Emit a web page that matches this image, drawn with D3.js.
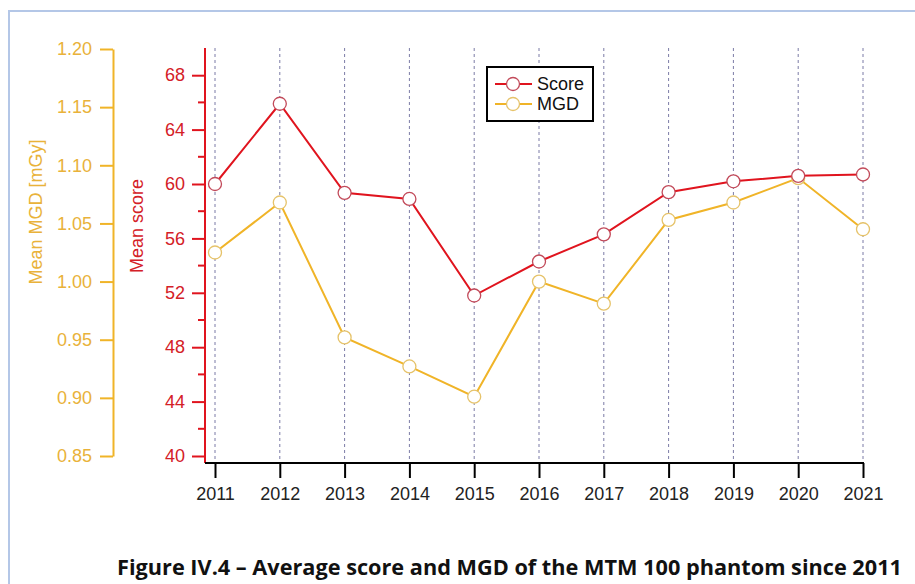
<!DOCTYPE html>
<html>
<head>
<meta charset="utf-8">
<script src="https://cdn.jsdelivr.net/npm/d3@7"></script>
<style>
  body { margin: 0; background: #fff; }
  svg text { font-family: "Liberation Sans", Arial, sans-serif; }
</style>
</head>
<body>
<div id="chart"></div>
<script>
// data
var years = [2011, 2012, 2013, 2014, 2015, 2016, 2017, 2018, 2019, 2020, 2021];
var score = [60.0, 65.9, 59.35, 58.9, 51.8, 54.3, 56.3, 59.4, 60.2, 60.6, 60.7];
var mgd = [1.025, 1.068, 0.952, 0.927, 0.901, 1.000, 0.981, 1.053, 1.068, 1.089, 1.045];
var scoreTicks = [40, 44, 48, 52, 56, 60, 64, 68];
var scoreMinor = [42, 46, 50, 54, 58, 62, 66];
var mgdTicks = [0.85, 0.90, 0.95, 1.00, 1.05, 1.10, 1.15, 1.20];

var W = 915, H = 584;
var red = "#e0141e", redText = "#d42027";
var orange = "#f0b428", orangeText = "#e9b23a";

var svg = d3.select("#chart").append("svg")
    .attr("width", W)
    .attr("height", H);

// light blue frame of the page
svg.append("path")
    .attr("d", "M9,584 L9,11 L915,11")
    .attr("fill", "none")
    .attr("stroke", "#b4c7e7")
    .attr("stroke-width", 2);

var x = d3.scaleLinear().domain([2011, 2021]).range([215, 863]);
var yScore = d3.scaleLinear().domain([40, 70]).range([456, 48]);
var yMgd = d3.scaleLinear().domain([0.85, 1.20]).range([456, 49]);

// vertical dashed grid
svg.append("g").selectAll("line")
    .data(years)
    .join("line")
    .attr("x1", d => x(d)).attr("x2", d => x(d))
    .attr("y1", 48).attr("y2", 463)
    .attr("stroke", "#7b7ba6")
    .attr("stroke-width", 1)
    .attr("stroke-dasharray", "3,3");

// MGD axis (orange, far left)
var mgdAxis = svg.append("g")
    .attr("transform", "translate(113,0)")
    .call(d3.axisLeft(yMgd).tickValues(mgdTicks).tickFormat(d3.format(".2f"))
          .tickSize(13).tickSizeOuter(0).tickPadding(8));
mgdAxis.select(".domain").attr("stroke", orange).attr("stroke-width", 2);
mgdAxis.selectAll(".tick line").attr("stroke", orange).attr("stroke-width", 2);
mgdAxis.selectAll(".tick text").attr("fill", orangeText).style("font-size", "18px");

// score axis (red)
var scoreAxis = svg.append("g")
    .attr("transform", "translate(205,0)")
    .call(d3.axisLeft(yScore).tickValues(scoreTicks)
          .tickSize(13).tickSizeOuter(0).tickPadding(7));
scoreAxis.select(".domain").attr("stroke", red).attr("stroke-width", 2)
    .attr("d", "M0,48V463");
scoreAxis.selectAll(".tick line").attr("stroke", red).attr("stroke-width", 2);
scoreAxis.selectAll(".tick text").attr("fill", redText).style("font-size", "18px");
scoreAxis.selectAll(".minor")
    .data(scoreMinor)
    .join("line")
    .attr("class", "minor")
    .attr("x1", -7).attr("x2", 0)
    .attr("y1", d => yScore(d)).attr("y2", d => yScore(d))
    .attr("stroke", red).attr("stroke-width", 2);

// year axis
var xAxis = svg.append("g")
    .attr("transform", "translate(0,463)")
    .call(d3.axisBottom(x).tickValues(years).tickFormat(d3.format("d"))
          .tickSize(15).tickSizeOuter(0).tickPadding(9));
xAxis.select(".domain").attr("stroke", "#000").attr("stroke-width", 2)
    .attr("d", "M205,0H864");
xAxis.selectAll(".tick line").attr("stroke", "#000").attr("stroke-width", 2);
xAxis.selectAll(".tick text").attr("fill", "#222").style("font-size", "18px");

// axis titles
svg.append("text")
    .attr("transform", "translate(42,212) rotate(-90)")
    .attr("text-anchor", "middle")
    .attr("fill", orangeText)
    .style("font-size", "18px")
    .text("Mean MGD [mGy]");
svg.append("text")
    .attr("transform", "translate(143,226) rotate(-90)")
    .attr("text-anchor", "middle")
    .attr("fill", redText)
    .style("font-size", "18px")
    .text("Mean score");

// series
function drawSeries(values, yScale, lineColor, markColor) {
    var line = d3.line()
        .x((d, i) => x(years[i]))
        .y(d => yScale(d));
    svg.append("path")
        .datum(values)
        .attr("d", line)
        .attr("fill", "none")
        .attr("stroke", lineColor)
        .attr("stroke-width", 2);
    svg.append("g").selectAll("circle")
        .data(values)
        .join("circle")
        .attr("cx", (d, i) => x(years[i]))
        .attr("cy", d => yScale(d))
        .attr("r", 6.5)
        .attr("fill", "#fff")
        .attr("stroke", markColor)
        .attr("stroke-width", 1.3);
}
drawSeries(mgd, yMgd, orange, "#e6c36a");
drawSeries(score, yScore, red, "#c24a5a");

// legend
var legend = svg.append("g").attr("transform", "translate(487,67)");
legend.append("rect")
    .attr("width", 106).attr("height", 54)
    .attr("fill", "#fff")
    .attr("stroke", "#000")
    .attr("stroke-width", 2);
var legendItems = [
    {name: "Score", line: red, mark: "#c24a5a"},
    {name: "MGD", line: orange, mark: "#e6c36a"}
];
legendItems.forEach(function(item, i) {
    var ly = 17 + i * 20;
    legend.append("line")
        .attr("x1", 8).attr("x2", 45)
        .attr("y1", ly).attr("y2", ly)
        .attr("stroke", item.line).attr("stroke-width", 2);
    legend.append("circle")
        .attr("cx", 26).attr("cy", ly).attr("r", 6.5)
        .attr("fill", "#fff").attr("stroke", item.mark).attr("stroke-width", 1.3);
    legend.append("text")
        .attr("x", 50).attr("y", ly + 6)
        .attr("fill", "#111")
        .style("font-size", "18px")
        .text(item.name);
});

// caption
svg.append("text")
    .attr("x", 117).attr("y", 575)
    .attr("textLength", 785)
    .attr("lengthAdjust", "spacingAndGlyphs")
    .attr("fill", "#111")
    .style("font-family", "'Open Sans', 'Noto Sans', sans-serif")
    .style("font-weight", "bold")
    .style("font-size", "21px")
    .text("Figure IV.4 \u2013 Average score and MGD of the MTM 100 phantom since 2011");
</script>
</body>
</html>
